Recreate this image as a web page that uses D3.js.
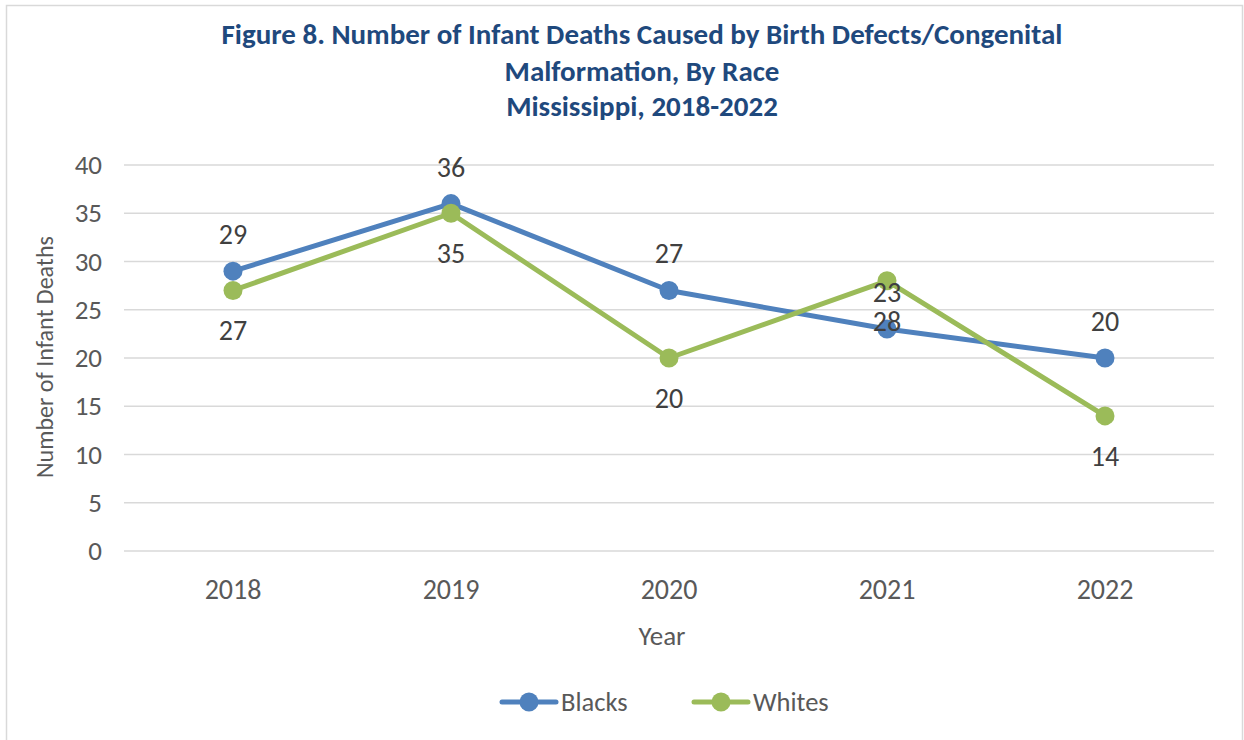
<!DOCTYPE html>
<html><head><meta charset="utf-8">
<script src="https://cdn.jsdelivr.net/npm/d3@7"></script>
<style>html,body{margin:0;padding:0;background:#fff;}svg{display:block;}</style>
</head><body>
<svg id="c" width="1244" height="740"></svg>
<script>
const years = ["2018","2019","2020","2021","2022"];
const blacks = [29,36,27,23,20];
const whites = [27,35,20,28,14];
const yTicks = [0,5,10,15,20,25,30,35,40];
const titleLines = ["Figure 8. Number of Infant Deaths Caused by Birth Defects/Congenital","Malformation, By Race","Mississippi, 2018-2022"];
const seriesNames = ["Blacks","Whites"];
const colors = ["#4f81bd","#9bbb59"];
// label position: above (-1) or below (+1)
const blackPos = [-1,-1,-1,-1,-1];
const whitePos = [1,1,1,1,1];

const font = "Calibri, Carlito, Lato, 'Open Sans', sans-serif";
const svg = d3.select("#c");
svg.append("rect").attr("x",6.5).attr("y",5.5).attr("width",1236).attr("height",740).attr("fill","#fff").attr("stroke","#d9d9d9").attr("stroke-width",1.5);

const x = d3.scaleBand().domain(years).range([124,1214]);
const y = d3.scaleLinear().domain([0,40]).range([551,165]);

svg.selectAll(".title").data(titleLines).enter().append("text")
  .attr("x",642).attr("y",(d,i)=>[44,81,116][i]).attr("text-anchor","middle")
  .attr("font-family",font).attr("font-weight","bold").attr("font-size",29).attr("fill","#1f497d").text(d=>d);

const g = svg.append("g");
g.selectAll(".grid").data(yTicks).enter().append("line")
  .attr("x1",124).attr("x2",1214).attr("y1",d=>y(d)).attr("y2",d=>y(d))
  .attr("stroke","#d9d9d9").attr("stroke-width",1.3);

const ya = svg.append("g").attr("transform","translate(124,0)").call(d3.axisLeft(y).tickValues(yTicks).tickSize(0).tickPadding(22));
ya.select(".domain").remove();
ya.selectAll("text").attr("font-family",font).attr("font-size",27).attr("fill","#595959");

const xa = svg.append("g").attr("transform","translate(0,551)").call(d3.axisBottom(x).tickSize(0).tickPadding(28));
xa.select(".domain").remove();
xa.selectAll("text").attr("font-family",font).attr("font-size",28).attr("fill","#595959");

svg.append("text").attr("x",662).attr("y",645).attr("text-anchor","middle")
  .attr("font-family",font).attr("font-size",27).attr("fill","#595959").text("Year");
svg.append("text").attr("transform","translate(53,357) rotate(-90)").attr("text-anchor","middle")
  .attr("font-family",font).attr("font-size",24).attr("fill","#595959").text("Number of Infant Deaths");

const cx = d=>x(d)+x.bandwidth()/2;
const line = d3.line().x((d,i)=>cx(years[i])).y(d=>y(d));
[[blacks,blackPos],[whites,whitePos]].forEach(([vals,pos],s)=>{
  svg.append("path").datum(vals).attr("d",line).attr("fill","none").attr("stroke",colors[s]).attr("stroke-width",5).attr("stroke-linejoin","round");
  svg.selectAll(".m"+s).data(vals).enter().append("circle")
    .attr("cx",(d,i)=>cx(years[i])).attr("cy",d=>y(d)).attr("r",9.5).attr("fill",colors[s]);
});
[[blacks,blackPos],[whites,whitePos]].forEach(([vals,pos],s)=>{
  svg.selectAll(".l"+s).data(vals).enter().append("text")
    .attr("x",(d,i)=>cx(years[i])).attr("y",(d,i)=>y(d)+(pos[i]<0?-27:50))
    .attr("text-anchor","middle").attr("font-family",font).attr("font-size",28).attr("fill","#404040").text(d=>d);
});

// legend
const lx = [502,694];
seriesNames.forEach((n,i)=>{
  svg.append("line").attr("x1",lx[i]).attr("x2",lx[i]+54).attr("y1",702).attr("y2",702).attr("stroke",colors[i]).attr("stroke-width",5).attr("stroke-linecap","round");
  svg.append("circle").attr("cx",lx[i]+27).attr("cy",702).attr("r",9.5).attr("fill",colors[i]);
  svg.append("text").attr("x",lx[i]+59).attr("y",711).attr("font-family",font).attr("font-size",26.5).attr("fill","#595959").text(n);
});
</script>
</body></html>
